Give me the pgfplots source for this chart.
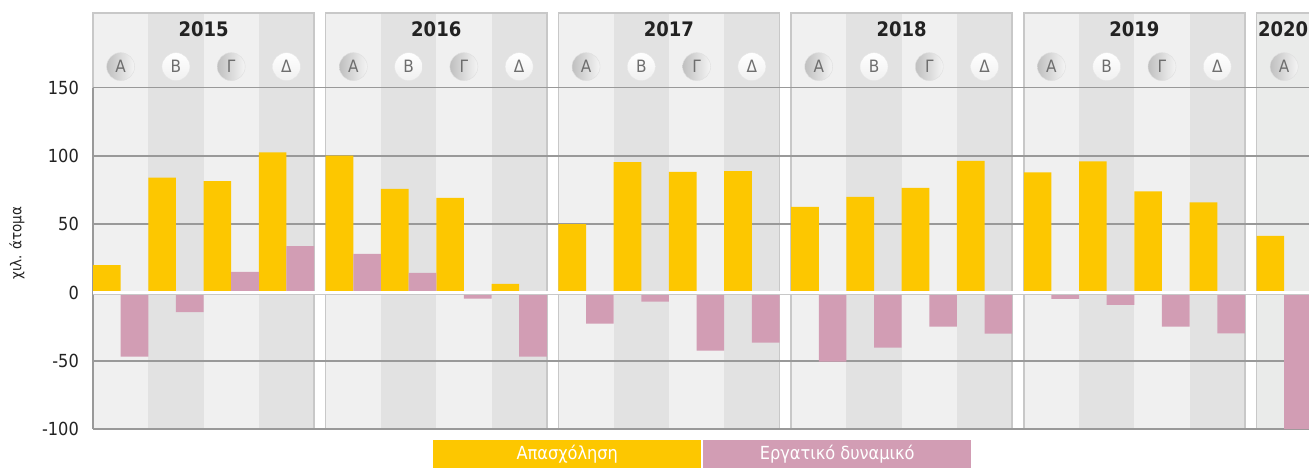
\documentclass[border=0pt]{standalone}
\usepackage{fontspec}
\setmainfont{DejaVu Sans Condensed}
\usepackage{pgfplots}
\pgfplotsset{compat=1.18}

\definecolor{apas}{RGB}{253,199,0}
\definecolor{ergat}{RGB}{210,157,180}
\definecolor{stripeA}{RGB}{240,240,240}
\definecolor{stripeB}{RGB}{226,226,226}
\definecolor{strip20}{RGB}{234,235,234}
\definecolor{panelline}{RGB}{200,200,200}
\definecolor{gridc}{RGB}{153,153,153}
\definecolor{txt}{RGB}{34,34,34}
\definecolor{qtxt}{RGB}{110,110,110}

\begin{document}
\begin{tikzpicture}
\begin{axis}[
  set layers=standard,
  scale only axis,
  width=1216pt, height=416.1pt,
  xmin=0, xmax=22, ymin=-100, ymax=204.6,
  clip mode=individual,
  axis line style={draw=none},
  major tick length=0pt,
  xtick=\empty,
  ytick={-100,-50,0,50,100,150},
  ymajorgrids,
  grid style={gridc, line width=1.5pt},
  /pgf/number format/assume math mode=true,
  yticklabel style={anchor=east, inner sep=0pt, xshift=-14pt,
    font=\fontsize{18}{18}\selectfont, text=txt},
  ylabel={χιλ. άτομα},
  every axis y label/.style={at={(rel axis cs:-0.0625,0.447)}, rotate=90,
    anchor=center, font=\fontsize{15}{15}\selectfont, text=txt},
]
% panels and quarter stripes
\begin{pgfonlayer}{axis background}
\pgfplotsinvokeforeach{0,1,2,3,4}{
  \fill[stripeA] (axis cs:{4.21*#1},-100) rectangle (axis cs:{4.21*#1+4},204.6);
  \fill[stripeB] (axis cs:{4.21*#1+1},-100) rectangle (axis cs:{4.21*#1+2},204.6);
  \fill[stripeB] (axis cs:{4.21*#1+3},-100) rectangle (axis cs:{4.21*#1+4},204.6);
  \draw[panelline, line width=1.5pt] (axis cs:{4.21*#1},-100) -- (axis cs:{4.21*#1},204.6)
     -- (axis cs:{4.21*#1+4},204.6) -- (axis cs:{4.21*#1+4},-100);
}
\fill[strip20] (axis cs:21.05,-100) rectangle (axis cs:22,204.6);
\draw[panelline, line width=1.5pt] (axis cs:21.05,-100) -- (axis cs:21.05,204.6) -- (axis cs:22,204.6);
\end{pgfonlayer}

\draw[gridc, line width=1.5pt] (axis cs:0,-100) -- (axis cs:0,150);

% Απασχόληση
\addplot[ybar, bar width=0.5, bar shift=0pt, fill=apas, draw=none] coordinates {
  (0.25,20) (1.25,84) (2.25,81.5) (3.25,102.5)
  (4.46,100.2) (5.46,75.8) (6.46,69.2) (7.46,6.2)
  (8.67,50) (9.67,95.5) (10.67,88.2) (11.67,88.9)
  (12.88,62.6) (13.88,69.9) (14.88,76.5) (15.88,96.3)
  (17.09,88) (18.09,96) (19.09,74) (20.09,66)
  (21.30,41.5)
};
% Εργατικό δυναμικό
\addplot[ybar, bar width=0.5, bar shift=0pt, fill=ergat, draw=none] coordinates {
  (0.75,-47) (1.75,-14.3) (2.75,15) (3.75,34)
  (4.96,28.2) (5.96,14.3) (6.96,-4.5) (7.96,-47)
  (9.17,-22.8) (10.17,-6.7) (11.17,-42.6) (12.17,-36.7)
  (13.38,-50.6) (14.38,-40.4) (15.38,-25) (16.38,-30.2)
  (17.59,-4.7) (18.59,-9) (19.59,-25) (20.59,-30)
  (21.80,-100)
};

\draw[panelline, line width=1pt] (axis cs:0,-1.28) -- (axis cs:22,-1.28);
\draw[white, line width=2.5pt] (axis cs:0,0) -- (axis cs:22,0);

% quarter badges
\addplot[only marks, mark=text, text mark={Α}, text mark as node=true,
  text mark style={circle, minimum size=28pt, inner sep=0pt, draw=gray!25,
    left color=gray!50, right color=gray!8, text=qtxt, font=\fontsize{17}{17}\selectfont}]
  coordinates {(0.5,165.3) (4.71,165.3) (8.92,165.3) (13.13,165.3) (17.34,165.3) (21.55,165.3)};
\addplot[only marks, mark=text, text mark={Β}, text mark as node=true,
  text mark style={circle, minimum size=28pt, inner sep=0pt, draw=gray!20,
    top color=white, bottom color=gray!12, text=qtxt, font=\fontsize{17}{17}\selectfont}]
  coordinates {(1.5,165.3) (5.71,165.3) (9.92,165.3) (14.13,165.3) (18.34,165.3)};
\addplot[only marks, mark=text, text mark={Γ}, text mark as node=true,
  text mark style={circle, minimum size=28pt, inner sep=0pt, draw=gray!25,
    left color=gray!50, right color=gray!8, text=qtxt, font=\fontsize{17}{17}\selectfont}]
  coordinates {(2.5,165.3) (6.71,165.3) (10.92,165.3) (15.13,165.3) (19.34,165.3)};
\addplot[only marks, mark=text, text mark={Δ}, text mark as node=true,
  text mark style={circle, minimum size=28pt, inner sep=0pt, draw=gray!20,
    top color=white, bottom color=gray!12, text=qtxt, font=\fontsize{17}{17}\selectfont}]
  coordinates {(3.5,165.3) (7.71,165.3) (11.92,165.3) (16.13,165.3) (20.34,165.3)};

% year titles
\node[font=\bfseries\fontsize{20}{20}\selectfont, text=txt] at (axis cs:2,192.9) {2015};
\node[font=\bfseries\fontsize{20}{20}\selectfont, text=txt] at (axis cs:6.21,192.9) {2016};
\node[font=\bfseries\fontsize{20}{20}\selectfont, text=txt] at (axis cs:10.42,192.9) {2017};
\node[font=\bfseries\fontsize{20}{20}\selectfont, text=txt] at (axis cs:14.63,192.9) {2018};
\node[font=\bfseries\fontsize{20}{20}\selectfont, text=txt] at (axis cs:18.84,192.9) {2019};
\node[font=\bfseries\fontsize{20}{20}\selectfont, text=txt] at (axis cs:21.53,192.9) {2020};

% legend
\node[fill=apas, text=white, minimum width=268pt, minimum height=28pt, inner sep=0pt,
  anchor=south west, font=\fontsize{18}{18}\selectfont] at (axis cs:6.152,-128.5) {Απασχόληση};
\node[fill=ergat, text=white, minimum width=268pt, minimum height=28pt, inner sep=0pt,
  anchor=south west, font=\fontsize{18}{18}\selectfont] at (axis cs:11.037,-128.5) {Εργατικό δυναμικό};

\coordinate (bbsw) at (axis cs:-1.683,-128.5);
\coordinate (bbne) at (axis cs:22,214.1);
\end{axis}
\pgfresetboundingbox
\path[use as bounding box] (bbsw) rectangle (bbne);
\end{tikzpicture}
\end{document}
